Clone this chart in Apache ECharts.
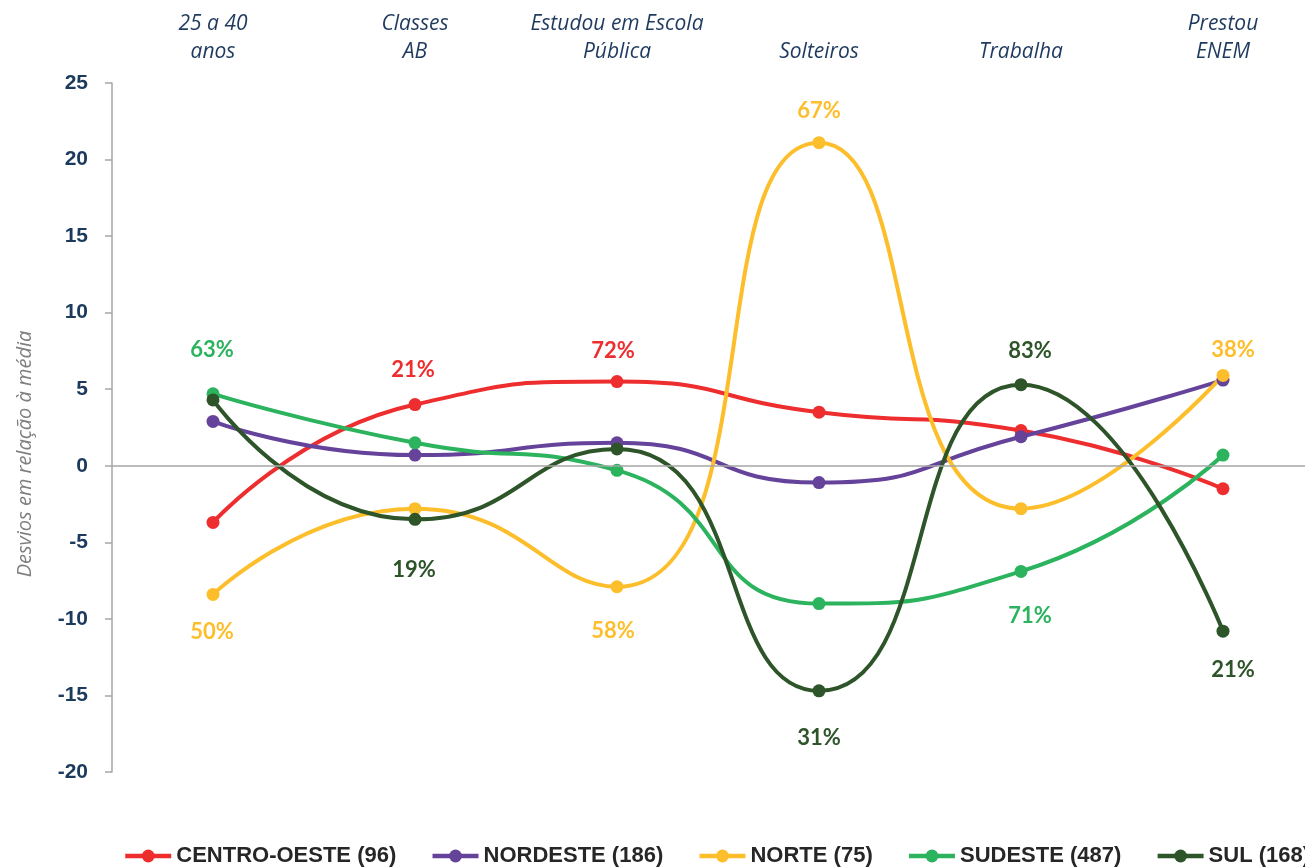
<!DOCTYPE html>
<html>
<head>
<meta charset="utf-8">
<script src="https://cdn.jsdelivr.net/npm/echarts@6/dist/echarts.min.js"></script>
<style>
  html, body { margin: 0; padding: 0; background: #fff; }
  #chart { width: 1305px; height: 867px; }
</style>
</head>
<body>
<div id="chart"></div>
<script>
// categorias (eixo superior)
const categories = ['25 a 40\nanos', 'Classes\nAB', 'Estudou em Escola\nPública', 'Solteiros', 'Trabalha', 'Prestou\nENEM'];
const yTicks = [-20, -15, -10, -5, 0, 5, 10, 15, 20, 25];

const seriesNames = ['CENTRO-OESTE (96)', 'NORDESTE (186)', 'NORTE (75)', 'SUDESTE (487)', 'SUL (168)'];

// desvios em relação à média
const centroOeste = [-3.7, 4.0, 5.5, 3.5, 2.3, -1.5];
const nordeste    = [2.9, 0.7, 1.5, -1.1, 1.9, 5.6];
const norte       = [-8.4, -2.8, -7.9, 21.1, -2.8, 5.9];
const sudeste     = [4.7, 1.5, -0.3, -9.0, -6.9, 0.7];
const sul         = [4.3, -3.5, 1.1, -14.7, 5.3, -10.8];

// rótulos percentuais
const centroOesteLabels = [null, '21%', '72%', null, null, null];
const nordesteLabels    = [null, null, null, null, null, null];
const norteLabels       = ['50%', null, '58%', '67%', null, '38%'];
const sudesteLabels     = ['63%', null, null, null, '71%', null];
const sulLabels         = [null, '19%', null, '31%', '83%', '21%'];

// deslocamento dos rótulos [dx, dy] em px
const labelShift = {
  0: [null, [-2, -35], [-4, -31], null, null, null],
  1: [null, null, null, null, null, null],
  2: [[-1, 38], null, [-4, 44], [0, -32], null, [10, -26]],
  3: [[-1, -44], null, null, null, [9, 44], null],
  4: [null, [-1, 51], null, [0, 47], [9, -34], [10, 39]]
};

const colors = ['#EE2D2F', '#65439B', '#FDBE2B', '#2BB35E', '#2E5429'];
const values = [centroOeste, nordeste, norte, sudeste, sul];
const labels = [centroOesteLabels, nordesteLabels, norteLabels, sudesteLabels, sulLabels];

const chart = echarts.init(document.getElementById('chart'));

const series = seriesNames.map(function (name, i) {
  const s = {
    name: name,
    type: 'line',
    smooth: 0.55,
    symbol: 'circle',
    symbolSize: 13,
    lineStyle: { width: 4, color: colors[i] },
    itemStyle: { color: colors[i] },
    data: values[i].map(function (v, j) {
      const item = { value: v };
      if (labels[i][j]) {
        const sh = labelShift[i][j] || [0, -34];
        item.label = {
          show: true,
          formatter: labels[i][j],
          position: 'inside',
          offset: sh,
          color: colors[i],
          fontFamily: 'Lato',
          fontWeight: 'bold',
          fontSize: 22
        };
      }
      return item;
    })
  };
  if (i === 0) {
    // linha do zero
    s.markLine = {
      silent: true,
      symbol: 'none',
      label: { show: false },
      lineStyle: { color: '#A6A6A6', width: 1.5, type: 'solid' },
      data: [{ yAxis: 0 }]
    };
  }
  return s;
});

chart.setOption({
  animation: false,
  color: colors,
  grid: { left: 112, width: 1212, top: 83, bottom: 95, outerBoundsMode: 'none' },
  xAxis: {
    type: 'category',
    position: 'top',
    data: categories,
    axisLine: { show: false },
    axisTick: { show: false },
    axisLabel: {
      interval: 0,
      margin: 17,
      color: '#1F3A5F',
      fontFamily: 'Open Sans',
      fontStyle: 'italic',
      fontSize: 21,
      lineHeight: 28,
      verticalAlign: 'bottom'
    }
  },
  yAxis: {
    type: 'value',
    min: yTicks[0],
    max: yTicks[yTicks.length - 1],
    interval: 5,
    axisLine: { show: true, lineStyle: { color: '#A6A6A6', width: 1.5 } },
    axisTick: { show: true, length: 7, lineStyle: { color: '#A6A6A6', width: 1.5 } },
    splitLine: { show: false },
    axisLabel: {
      margin: 24,
      color: '#1B3A5C',
      fontFamily: 'Liberation Sans',
      fontWeight: 'bold',
      fontSize: 21
    }
  },
  legend: {
    left: 123,
    top: 845,
    padding: 0,
    width: 1600,
    itemWidth: 46,
    itemHeight: 16,
    itemGap: 34,
    data: seriesNames,
    lineStyle: { width: 4.5 },
    textStyle: {
      color: '#262626',
      fontFamily: 'Liberation Sans',
      fontWeight: 'bold',
      fontSize: 22
    }
  },
  graphic: [{
    type: 'text',
    x: 25,
    y: 454,
    rotation: Math.PI / 2,
    style: {
      text: 'Desvios em relação à média',
      fill: '#7F7F7F',
      font: 'italic 20px "Open Sans"',
      textAlign: 'center',
      textVerticalAlign: 'middle'
    }
  }],
  series: series
});
</script>
</body>
</html>
